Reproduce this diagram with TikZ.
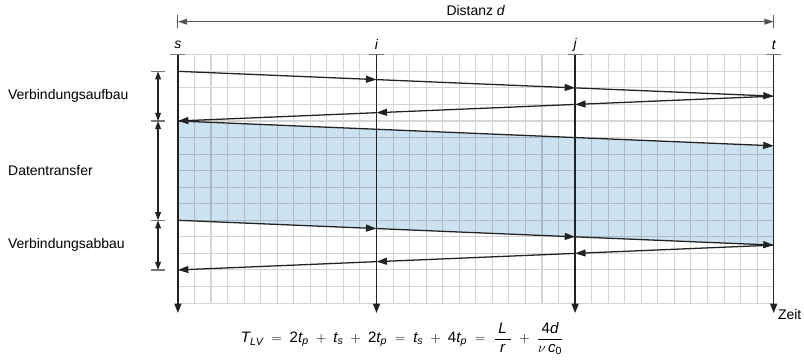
\documentclass[tikz,border=0pt]{standalone}
\usepackage{fontspec}
\setmainfont{Liberation Sans}
\setsansfont{Liberation Sans}
\usepackage{amsmath}
\usetikzlibrary{positioning, arrows.meta, calc}
\definecolor{transferblue}{HTML}{CCE2F0}
\definecolor{linedark}{HTML}{222222}
\definecolor{tickgray}{HTML}{777777}
\definecolor{dimgray}{HTML}{555555}
\newcommand{\vi}[1]{\mathit{#1}}
\newcommand{\vd}[1]{\mathrm{#1}}

\begin{document}
\begin{tikzpicture}[x=0.5cm, y=-0.5cm,
    every node/.style={font=\fontsize{12}{14}\selectfont},
    msg/.style={-{Triangle[length=9pt, width=6pt]}, line width=1.1pt, draw=linedark},
    lifeline/.style={-{Triangle[length=8pt, width=6pt]}, line width=1.1pt, draw=linedark},
    tickmark/.style={line width=1.2pt, draw=tickgray},
    phase/.style={{Triangle[length=7pt, width=5pt]}-{Triangle[length=7pt, width=5pt]}, line width=1pt, draw=linedark},
    phaselabel/.style={anchor=west, inner sep=0pt},
    proclabel/.style={font=\fontsize{12}{14}\selectfont\itshape},
    gridline/.style={draw=black, draw opacity=0.17, line width=0.9pt},
  ]
  \useasboundingbox (-10.75,-3.31) rectangle (37.83,18.67);

  % Data transfer area and grid
  \fill[transferblue] (0,4) -- (36,5.5) -- (36,11.5) -- (0,10) -- cycle;
  \draw[gridline, step=0.5cm] (0,15) grid (36,0);

  % Processes
  \foreach \p/\x in {s/0, i/12, j/24, t/36} {
    \node[proclabel] (\p) at (\x,-0.6) {\p};
    \coordinate (\p-top) at (\x,0);
    \coordinate (\p-end) at (\x,15.6);
    \draw[lifeline] (\p-top) -- (\p-end);
    \draw[tickmark] ($(\p-top)+(-0.45,0)$) -- ($(\p-top)+(0.45,0)$);
  }
  \node[anchor=west, inner sep=0pt] (zeit) at (36.25,15.7) {Zeit};

  % Distance
  \coordinate (dl) at (0,-2);
  \coordinate (dr) at (36,-2);
  \draw[{Triangle[length=8pt, width=5pt]}-{Triangle[length=8pt, width=5pt]}, line width=1pt, draw=dimgray] (dl) -- (dr);
  \draw[line width=1pt, draw=dimgray] ($(dl)+(0,-0.4)$) -- ($(dl)+(0,0.4)$);
  \draw[line width=1pt, draw=dimgray] ($(dr)+(0,-0.4)$) -- ($(dr)+(0,0.4)$);
  \node (dist) at (18,-2.65) {Distanz \textit{d}};

  % Messages
  \foreach \k in {0,...,3} {
    \coordinate (a\k) at (12*\k, 1+0.5*\k);
    \coordinate (b\k) at (36-12*\k, 2.5+0.5*\k);
    \coordinate (c\k) at (12*\k, 10+0.5*\k);
    \coordinate (e\k) at (36-12*\k, 11.5+0.5*\k);
  }
  \foreach \k/\m in {0/1, 1/2, 2/3} {
    \draw[msg] (a\k) -- (a\m);
    \draw[msg] (b\k) -- (b\m);
    \draw[msg] (c\k) -- (c\m);
    \draw[msg] (e\k) -- (e\m);
  }
  \coordinate (dtop-s) at (0,4);
  \coordinate (dtop-t) at (36,5.5);
  \draw[msg] (dtop-s) -- (dtop-t);

  % Phases
  \foreach \n/\y in {1/1, 2/4, 3/10, 4/13} {
    \coordinate (ph\n) at (-1.2,\y);
    \draw[tickmark] ($(ph\n)+(-0.4,0)$) -- ($(ph\n)+(0.4,0)$);
  }
  \draw[phase] (ph1) -- (ph2);
  \draw[phase] (ph2) -- (ph3);
  \draw[phase] (ph3) -- (ph4);
  \node[phaselabel] (aufbau) at (-10.27,2.5) {Verbindungsaufbau};
  \node[phaselabel] (transfer) at (-10.27,7) {Datentransfer};
  \node[phaselabel] (abbau) at (-10.27,11.5) {Verbindungsabbau};

  % Formula
  \node[font=\fontsize{13}{15}\selectfont] (formula) at (13.55,17.15) {$\displaystyle \vi{T}_{\vi{LV}} \;=\; \vd{2}\vi{t}_{\vi{p}} \;+\; \vi{t}_{\vi{s}} \;+\; \vd{2}\vi{t}_{\vi{p}} \;=\; \vi{t}_{\vi{s}} \;+\; \vd{4}\vi{t}_{\vi{p}} \;=\; \frac{\;\vi{L}\;}{\vi{r}} \;+\; \frac{\vd{4}\vi{d}}{\nu\,\vi{c}_{\vd{0}}}$};
\end{tikzpicture}
\end{document}
